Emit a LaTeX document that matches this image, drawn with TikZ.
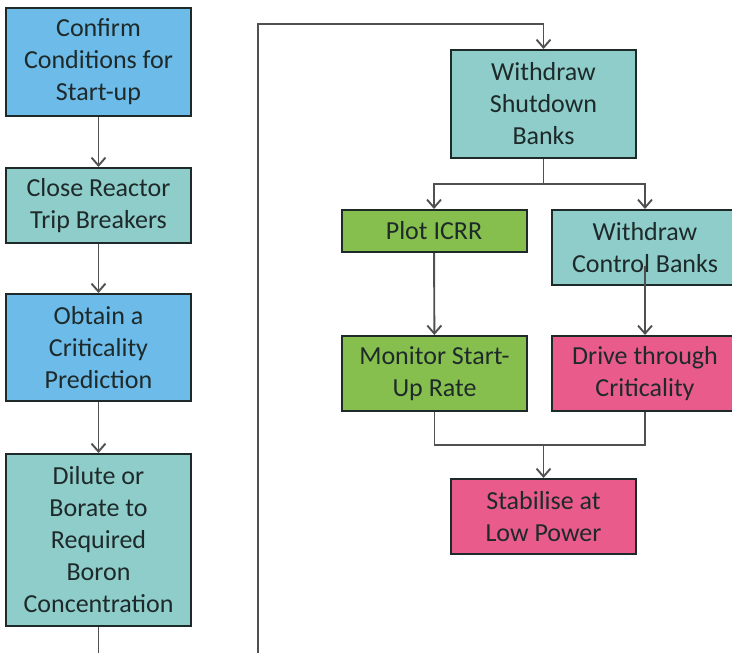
\documentclass[tikz,border=0pt]{standalone}
\usepackage{fontspec}
\setmainfont{Carlito}
\usetikzlibrary{arrows.meta}

\begin{document}
\begin{tikzpicture}[x=1pt, y=-1pt, >={Straight Barb[length=8pt, width=14pt]},
    every node/.style={font=\fontsize{26}{32}\selectfont},
    stepbox/.style={draw=ink, line width=2pt, align=center, inner sep=0pt,
      text=ink, minimum width=185pt},
    link/.style={draw=wire, line width=1.9pt}]
  \definecolor{ink}{HTML}{1E2A2A}
  \definecolor{wire}{HTML}{505050}
  \definecolor{skyblue}{HTML}{6DBBE9}
  \definecolor{teal}{HTML}{8ECDCA}
  \definecolor{leaf}{HTML}{87BF4E}
  \definecolor{rose}{HTML}{E85B8B}
  \useasboundingbox (0,0) rectangle (732,653);
  \clip (0,0) rectangle (732,653);

  % left column
  \node[stepbox, fill=skyblue, minimum height=108pt] (confirm) at (98.5,62) {Confirm\\Conditions for\\Start-up};
  \node[stepbox, fill=teal, minimum height=75pt] (close) at (98.5,205.5) {Close Reactor\\Trip Breakers};
  \node[stepbox, fill=skyblue, minimum height=107pt] (obtain) at (98.5,347.5) {Obtain a\\Criticality\\Prediction};
  \node[stepbox, fill=teal, minimum height=172pt] (dilute) at (98.5,540) {Dilute or\\Borate to\\Required\\Boron\\Concentration};

  % right part
  \node[stepbox, fill=teal, minimum height=108pt] (shutdown) at (543.5,104) {Withdraw\\Shutdown\\Banks};
  \node[stepbox, fill=leaf, minimum height=42pt] (icrr) at (434,231) {Plot ICRR};
  \node[stepbox, fill=teal, minimum height=75pt, minimum width=186pt] (control) at (645,247.5) {Withdraw\\Control Banks};
  \node[stepbox, fill=leaf, minimum height=75pt] (monitor) at (434.5,373.5) {Monitor Start-\\Up Rate};
  \node[stepbox, fill=rose, minimum height=75pt, minimum width=186pt] (drive) at (645,373.5) {Drive through\\Criticality};
  \node[stepbox, fill=rose, minimum height=75pt] (stabilise) at (543.5,516.5) {Stabilise at\\Low Power};

  \coordinate (loopbot) at (258,680);
  \coordinate (looptop) at (258,24);
  \coordinate (split) at (543.5,184);
  \coordinate (merge) at (543.5,445);

  % connectors
  \draw[link, ->] (confirm) -- (close);
  \draw[link, ->] (close) -- (obtain);
  \draw[link, ->] (obtain) -- (dilute);
  \draw[link, ->] (dilute.south) |- (loopbot) -- (looptop) -| (shutdown.north);
  \draw[link] (shutdown.south) -- (split);
  \draw[link, ->] (split) -| (icrr.north);
  \draw[link, ->] (split) -| (control.north);
  \draw[link, ->] (icrr) -- (monitor);
  \draw[link, ->] ([yshift=-18pt]control.center) -- (drive.north);
  \draw[link] (monitor.south) |- (merge) -| (drive.south);
  \draw[link, ->] (merge) -- (stabilise.north);
\end{tikzpicture}
\end{document}
